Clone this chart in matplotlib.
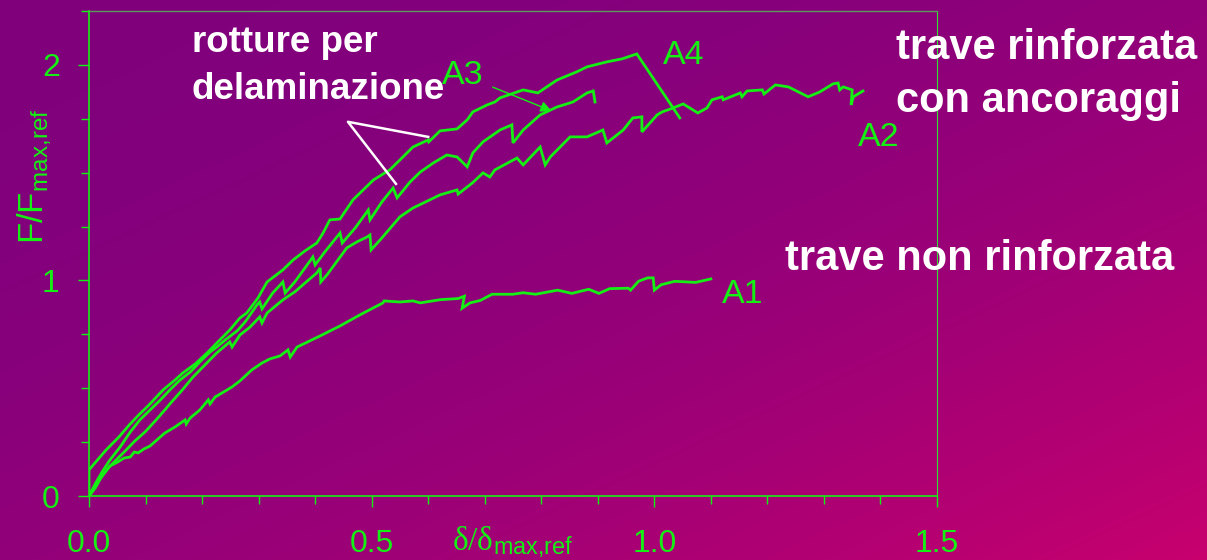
"""
Curve carico-spostamento normalizzate: travi A1..A4 (rinforzate / non rinforzate)
"""
import numpy as np
import matplotlib
matplotlib.use("Agg")
import matplotlib.pyplot as plt
from matplotlib.ticker import MultipleLocator, FixedLocator

plt.rcParams["font.family"] = ["Liberation Sans", "DejaVu Sans"]
plt.rcParams["mathtext.fontset"] = "custom"
plt.rcParams["mathtext.rm"] = "Liberation Serif"
plt.rcParams["mathtext.sf"] = "Liberation Sans"
plt.rcParams["mathtext.default"] = "rm"

GREEN = "#14f014"

# A1: trave non rinforzata
a1_x = [0, 0.011, 0.023, 0.037, 0.051, 0.062, 0.073, 0.080, 0.087, 0.097,
        0.104, 0.108, 0.120, 0.134, 0.152, 0.170, 0.172, 0.179, 0.196, 0.211,
        0.214, 0.223, 0.241, 0.253, 0.267, 0.288, 0.306, 0.320, 0.338, 0.347,
        0.352, 0.356, 0.368, 0.409, 0.444, 0.479, 0.520, 0.522, 0.550, 0.573,
        0.586, 0.622, 0.653, 0.664, 0.660, 0.674, 0.692, 0.713, 0.750, 0.768,
        0.790, 0.829, 0.854, 0.884, 0.902, 0.921, 0.954, 0.958, 0.972, 0.988,
        0.998, 1.000, 1.012, 1.036, 1.073, 1.100]
a1_y = [0, 0.046, 0.093, 0.139, 0.158, 0.176, 0.181, 0.204, 0.200, 0.218,
        0.227, 0.232, 0.260, 0.292, 0.320, 0.353, 0.334, 0.362, 0.399, 0.446,
        0.427, 0.459, 0.487, 0.506, 0.534, 0.585, 0.617, 0.636, 0.650, 0.668,
        0.678, 0.645, 0.691, 0.743, 0.789, 0.840, 0.896, 0.905, 0.900, 0.905,
        0.896, 0.911, 0.916, 0.927, 0.871, 0.896, 0.907, 0.936, 0.936, 0.943,
        0.936, 0.955, 0.940, 0.959, 0.940, 0.962, 0.964, 0.955, 0.996, 1.012,
        1.012, 0.955, 0.980, 0.996, 0.991, 1.007]

# A2
a2_x = [0, 0.011, 0.021, 0.034, 0.048, 0.064, 0.081, 0.099, 0.117, 0.134,
        0.143, 0.165, 0.184, 0.205, 0.226, 0.249, 0.253, 0.267, 0.285, 0.302,
        0.306, 0.315, 0.343, 0.364, 0.382, 0.403, 0.409, 0.410, 0.421, 0.456,
        0.474, 0.492, 0.497, 0.499, 0.515, 0.550, 0.573, 0.603, 0.621, 0.651,
        0.653, 0.678, 0.697, 0.709, 0.718, 0.757, 0.768, 0.798, 0.807, 0.816,
        0.851, 0.881, 0.909, 0.916, 0.945, 0.962, 0.978, 0.978, 1.005, 1.014,
        1.033, 1.051, 1.077, 1.093, 1.102, 1.120, 1.122, 1.152, 1.155, 1.164,
        1.191, 1.194, 1.214, 1.237, 1.272, 1.293, 1.316, 1.325, 1.328, 1.334,
        1.350, 1.348, 1.352, 1.369]
a2_y = [0, 0.037, 0.084, 0.130, 0.167, 0.209, 0.255, 0.297, 0.348, 0.399,
        0.427, 0.492, 0.552, 0.608, 0.664, 0.715, 0.691, 0.747, 0.784, 0.831,
        0.803, 0.849, 0.910, 0.947, 0.988, 1.035, 1.058, 0.993, 1.026, 1.151,
        1.179, 1.202, 1.211, 1.142, 1.188, 1.295, 1.336, 1.374, 1.397, 1.420,
        1.401, 1.452, 1.499, 1.480, 1.513, 1.568, 1.536, 1.619, 1.536, 1.573,
        1.666, 1.666, 1.698, 1.638, 1.698, 1.754, 1.759, 1.689, 1.768, 1.782,
        1.800, 1.819, 1.777, 1.800, 1.838, 1.852, 1.838, 1.870, 1.852, 1.879,
        1.884, 1.865, 1.907, 1.898, 1.852, 1.875, 1.912, 1.916, 1.884, 1.898,
        1.884, 1.814, 1.852, 1.879]

# A3
a3_x = [0, 0.011, 0.023, 0.037, 0.055, 0.073, 0.090, 0.108, 0.126, 0.143,
        0.161, 0.179, 0.196, 0.214, 0.226, 0.241, 0.262, 0.276, 0.297, 0.302,
        0.306, 0.325, 0.343, 0.347, 0.364, 0.382, 0.396, 0.400, 0.417, 0.444,
        0.448, 0.471, 0.494, 0.497, 0.518, 0.538, 0.545, 0.568, 0.586, 0.609,
        0.633, 0.651, 0.669, 0.679, 0.697, 0.727, 0.748, 0.750, 0.768, 0.798,
        0.828, 0.856, 0.881, 0.892, 0.895]
a3_y = [0, 0.056, 0.111, 0.167, 0.227, 0.297, 0.353, 0.399, 0.445, 0.492,
        0.538, 0.575, 0.622, 0.668, 0.691, 0.724, 0.766, 0.807, 0.886, 0.900,
        0.868, 0.942, 0.993, 0.942, 0.993, 1.058, 1.109, 1.072, 1.132, 1.220,
        1.174, 1.244, 1.327, 1.281, 1.364, 1.429, 1.383, 1.457, 1.503, 1.545,
        1.582, 1.573, 1.527, 1.592, 1.643, 1.698, 1.722, 1.638, 1.698, 1.768,
        1.805, 1.828, 1.870, 1.879, 1.828]

# A4 (ultimo punto = caduta dopo il picco)
a4_x = [0, 0, 0.012, 0.030, 0.053, 0.071, 0.088, 0.106, 0.131, 0.152,
        0.166, 0.188, 0.209, 0.228, 0.249, 0.267, 0.279, 0.299, 0.315, 0.343,
        0.361, 0.382, 0.403, 0.414, 0.426, 0.444, 0.467, 0.485, 0.503, 0.532,
        0.550, 0.573, 0.600, 0.601, 0.621, 0.651, 0.669, 0.679, 0.704, 0.718,
        0.727, 0.768, 0.794, 0.828, 0.863, 0.881, 0.916, 0.943, 0.969, 1.045]
a4_y = [0, 0.121, 0.158, 0.213, 0.274, 0.329, 0.376, 0.422, 0.492, 0.538,
        0.571, 0.613, 0.664, 0.715, 0.770, 0.826, 0.849, 0.919, 0.993, 1.049,
        1.095, 1.137, 1.174, 1.220, 1.281, 1.285, 1.374, 1.420, 1.466, 1.513,
        1.559, 1.619, 1.652, 1.643, 1.694, 1.703, 1.745, 1.782, 1.814, 1.828,
        1.847, 1.884, 1.870, 1.930, 1.968, 1.991, 2.014, 2.028, 2.051, 1.754]

curve_names = ["A1", "A2", "A3", "A4"]
x_ticks = [0.0, 0.5, 1.0, 1.5]
x_ticklabels = ["0.0", "0.5", "1.0", "1.5"]
y_ticks = [0, 1, 2]
y_ticklabels = ["0", "1", "2"]

W, H = 1207, 560
fig = plt.figure(figsize=(W / 100, H / 100), dpi=100)

# sfondo sfumato viola -> magenta
yy, xx = np.mgrid[0:1:H * 1j, 0:1:W * 1j]
t = np.clip((xx + yy) / 2, 0, 1) ** 2.0
c0 = np.array([128, 0, 125]) / 255
c1 = np.array([200, 0, 110]) / 255
img = c0 + (c1 - c0) * t[..., None]
bg = fig.add_axes([0, 0, 1, 1], zorder=0)
bg.imshow(img, aspect="auto", extent=(0, 1, 0, 1), origin="upper")
bg.axis("off")

ax = fig.add_axes([89 / W, 64 / H, 848 / W, 485 / H], zorder=1)
ax.patch.set_alpha(0)

for xs, ys in [(a1_x, a1_y), (a2_x, a2_y), (a3_x, a3_y), (a4_x, a4_y)]:
    ax.plot(xs, ys, color=GREEN, lw=2.0, solid_joinstyle="miter")

ax.set_xlim(0, 1.5)
ax.set_ylim(0, 2.25)

ax.xaxis.set_major_locator(FixedLocator(x_ticks))
ax.set_xticklabels(x_ticklabels)
ax.xaxis.set_minor_locator(MultipleLocator(0.1))
ax.yaxis.set_major_locator(FixedLocator(y_ticks))
ax.set_yticklabels(y_ticklabels)
ax.yaxis.set_minor_locator(MultipleLocator(0.25))

ax.tick_params(which="both", direction="out", color=GREEN, width=1.0)
ax.tick_params(which="major", length=8, labelsize=23, labelcolor=GREEN)
ax.tick_params(which="minor", length=6)
ax.tick_params(axis="x", which="major", pad=16)
ax.tick_params(axis="y", which="major", pad=13)

for side in ["left", "bottom"]:
    ax.spines[side].set_color(GREEN)
    ax.spines[side].set_linewidth(1.2)
ax.spines["right"].set_color("#33dd33")
ax.spines["right"].set_linewidth(0.8)
ax.spines["top"].set_color("#5a9a5a")
ax.spines["top"].set_linewidth(1.0)

ax.set_xlabel(r"$\delta/\delta_{\mathsf{max{,}ref}}$", fontsize=24,
              color=GREEN, va="baseline")
ax.xaxis.set_label_coords(0.5, -0.111)
ax.set_ylabel(r"$\mathsf{F/F_{max{,}ref}}$", fontsize=25, color=GREEN,
              va="baseline")
ax.yaxis.set_label_coords(-0.054, 0.66)

# etichette delle curve
label_pos = {"A1": (1.119, 0.896), "A2": (1.361, 1.624),
             "A3": (0.624, 1.910), "A4": (1.016, 2.004)}
for name in curve_names:
    lx, ly = label_pos[name]
    ax.text(lx, ly, name, color=GREEN, fontsize=24.5, ha="left",
            va="baseline")

# freccia A3
ax.annotate("", xy=(0.818, 1.787), xytext=(0.714, 1.897),
            arrowprops=dict(arrowstyle="-|>", color=GREEN, lw=1.0,
                            mutation_scale=16, shrinkA=0, shrinkB=0))

# linee bianche verso le rotture
ax.plot([0.600, 0.458, 0.543], [1.666, 1.736, 1.448], color="white",
        lw=1.8, clip_on=False)

# testi (baseline = ultima riga)
ax.text(0.182, 1.842, "rotture per\ndelaminazione", color="white",
        fontsize=26.5, fontweight="bold", ha="left", va="baseline",
        linespacing=1.45)
ax.text(1.428, 1.780, "trave rinforzata\ncon ancoraggi", color="white",
        fontsize=30, fontweight="bold", ha="left", va="baseline",
        linespacing=1.42)
ax.text(1.231, 1.049, "trave non rinforzata", color="white",
        fontsize=30, fontweight="bold", ha="left", va="baseline")

fig.savefig("out.png", dpi=100)
plt.close(fig)
